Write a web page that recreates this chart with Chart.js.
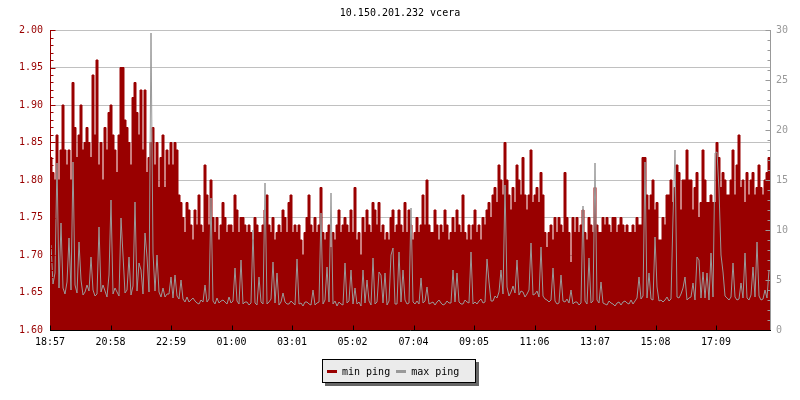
<!DOCTYPE html>
<html>
<head>
<meta charset="utf-8">
<script src="https://cdn.jsdelivr.net/npm/chart.js@4/dist/chart.umd.min.js"></script>
<style>
html,body{margin:0;padding:0;background:#fff;}
#wrap{position:relative;width:800px;height:400px;}
#legend{position:absolute;left:322px;top:359px;width:152px;height:22px;background:#ebebeb;border:1px solid #000;box-shadow:3px 3px 0 #666;font:10px "DejaVu Sans Mono",monospace;color:#000;display:flex;align-items:center;white-space:pre;}
#legend .sw{display:inline-block;width:10px;height:3px;margin:0 5px 0 4px;}
#legend .it{display:flex;align-items:center;}
#legend .it + .it .sw{margin-left:6px;}
</style>
</head>
<body>
<div id="wrap">
<canvas id="c" width="800" height="400"></canvas>
<div id="legend"></div>
</div>
<script>
const chartTitle = '10.150.201.232 vcera';
const seriesNames = ['min ping', 'max ping'];
const tickLabels = ['18:57','20:58','22:59','01:00','03:01','05:02','07:04','09:05','11:06','13:07','15:08','17:09'];
const stepMinutes = 4;
const leftTicks = [1.60,1.65,1.70,1.75,1.80,1.85,1.90,1.95,2.00];
const rightTicks = [0,5,10,15,20,25,30];

const minPing = [
1.83,1.81,1.80, 1.86,1.80,1.84, 1.90,1.84,1.82, 1.84,1.80,1.93, 1.87,1.83,1.86,
1.90,1.84,1.85, 1.87,1.85,1.83, 1.94,1.86,1.96, 1.82,1.85,1.80, 1.87,1.84,1.89,
1.90,1.86,1.84, 1.81,1.86,1.95, 1.95,1.88,1.87, 1.85,1.82,1.91, 1.93,1.89,1.86,
1.92,1.84,1.92, 1.81,1.83,1.85, 1.87,1.82,1.85, 1.79,1.83,1.86, 1.79,1.84,1.82,
1.85,1.82,1.85, 1.84,1.78,1.77, 1.75,1.73,1.77, 1.76,1.74,1.72, 1.76,1.74,1.78,
1.74,1.73,1.82, 1.78,1.74,1.80, 1.75,1.73,1.75, 1.72,1.74,1.77, 1.75,1.73,1.74,
1.74,1.73,1.78, 1.76,1.73,1.75, 1.75,1.74,1.73, 1.74,1.73,1.72, 1.75,1.74,1.73,
1.73,1.74,1.76, 1.78,1.74,1.73, 1.75,1.72,1.73, 1.74,1.73,1.76, 1.75,1.73,1.77,
1.78,1.73,1.74, 1.73,1.74,1.72, 1.70,1.73,1.75, 1.78,1.74,1.73, 1.75,1.73,1.74,
1.79,1.73,1.72, 1.73,1.74,1.71, 1.73,1.72,1.74, 1.76,1.73,1.74, 1.75,1.74,1.73,
1.76,1.73,1.79, 1.72,1.73,1.70, 1.75,1.73,1.76, 1.74,1.73,1.77, 1.76,1.74,1.77,
1.73,1.74,1.72, 1.73,1.72,1.75, 1.76,1.73,1.74, 1.76,1.74,1.73, 1.77,1.73,1.76,
1.74,1.72,1.73, 1.75,1.73,1.74, 1.78,1.74,1.80, 1.74,1.73,1.73, 1.76,1.74,1.72,
1.74,1.73,1.76, 1.74,1.72,1.73, 1.75,1.73,1.76, 1.74,1.73,1.78, 1.73,1.72,1.74,
1.72,1.74,1.76, 1.73,1.74,1.72, 1.75,1.74,1.76, 1.77,1.75,1.78, 1.79,1.77,1.82,
1.80,1.78,1.85, 1.80,1.78,1.76, 1.79,1.77,1.82, 1.80,1.78,1.83, 1.78,1.76,1.78,
1.84,1.77,1.78, 1.79,1.77,1.81, 1.78,1.73,1.71, 1.73,1.74,1.72, 1.75,1.73,1.75,
1.74,1.73,1.81, 1.75,1.73,1.69, 1.75,1.73,1.75, 1.73,1.74,1.76, 1.73,1.72,1.75,
1.74,1.73,1.79, 1.74,1.73,1.73, 1.75,1.74,1.75, 1.74,1.73,1.75, 1.75,1.73,1.74,
1.75,1.74,1.73, 1.74,1.73,1.73, 1.74,1.73,1.75, 1.74,1.74,1.83, 1.83,1.78,1.76,
1.78,1.80,1.76, 1.77,1.72,1.72, 1.75,1.74,1.78, 1.78,1.80,1.77, 1.79,1.82,1.81,
1.76,1.80,1.80, 1.84,1.80,1.80, 1.76,1.79,1.81, 1.75,1.77,1.84, 1.80,1.77,1.77,
1.78,1.77,1.77, 1.85,1.83,1.79, 1.81,1.80,1.78, 1.78,1.80,1.84, 1.78,1.82,1.86,
1.79,1.80,1.77, 1.81,1.78,1.80, 1.81,1.78,1.79, 1.82,1.79,1.78, 1.80,1.81,1.83
];

const maxPing = [
8.5,4.6,5.7, 16.7,4.2,10.7, 4.2,3.6,4.8, 9.2,4.0,16.8, 4.5,3.7,8.8,
5.0,3.5,3.8, 4.5,3.9,7.3, 4.0,3.4,3.6, 10.3,3.8,4.5, 3.9,3.3,5.5,
13.0,3.6,4.2, 3.8,3.4,11.2, 7.5,3.7,4.0, 7.3,3.5,4.4, 12.8,3.9,6.7,
6.0,3.6,9.7, 7.3,3.8,29.7, 7.7,3.9,7.5, 3.8,3.3,4.2, 3.3,3.6,3.6,
5.3,3.2,5.5, 3.4,3.1,5.0, 3.1,2.8,3.3, 2.8,3.0,3.2, 2.9,2.7,2.6,
3.0,2.8,4.5, 2.8,3.1,13.2, 2.9,2.6,3.2, 2.7,2.9,3.0, 2.8,2.6,3.3,
2.7,2.9,6.2, 2.9,2.6,7.0, 2.6,2.8,2.8, 2.5,2.7,10.0, 2.7,2.5,5.3,
2.8,2.6,14.7, 2.6,2.8,3.1, 6.8,2.7,5.7, 2.5,2.8,3.7, 2.8,2.6,2.6,
2.9,2.7,2.5, 7.1,2.6,2.7, 2.4,2.8,2.8, 2.6,2.5,4.0, 2.5,2.7,2.8,
11.7,2.6,3.0, 6.3,2.8,13.7, 2.6,2.9,2.4, 2.8,2.6,2.5, 6.7,2.7,2.9,
6.0,2.6,4.2, 2.6,2.8,2.4, 6.0,2.7,5.0, 2.9,2.5,7.2, 2.6,2.8,5.8,
5.5,2.7,5.7, 2.5,2.9,7.5, 8.2,2.6,2.6, 7.8,2.8,6.0, 3.0,2.6,2.7,
12.2,2.8,2.6, 2.9,2.6,5.2, 2.7,2.9,4.3, 2.6,2.7,2.8, 2.5,2.8,3.0,
2.7,2.5,2.6, 2.9,2.7,2.7, 6.0,2.8,5.7, 2.8,2.6,2.6, 3.0,2.8,2.7,
7.8,2.6,2.8, 2.6,2.9,3.1, 2.7,2.8,7.1, 4.8,2.9,2.9, 3.4,3.2,3.8,
6.0,3.6,14.5, 4.3,3.4,3.8, 4.4,3.7,7.0, 3.5,3.9,3.8, 3.3,3.6,4.0,
8.7,3.5,3.6, 3.9,3.3,8.3, 3.4,3.1,3.0, 2.8,3.0,6.2, 2.9,2.6,2.7,
5.5,2.9,2.8, 3.1,2.7,4.0, 2.6,2.8,2.8, 2.5,2.7,12.4, 2.9,2.6,7.2,
2.7,2.9,16.7, 3.0,2.7,4.8, 2.7,2.6,2.5, 2.9,2.7,2.6, 2.4,2.7,2.8,
2.5,2.8,2.9, 2.7,2.6,3.0, 2.6,2.9,3.2, 5.3,3.1,3.4, 16.8,3.2,5.7,
3.1,3.0,9.3, 4.3,2.9,3.0, 2.8,3.0,3.3, 2.9,3.1,11.3, 18.0,3.3,3.2,
3.6,4.2,5.3, 3.0,3.2,3.3, 4.7,3.0,7.3, 7.0,3.2,5.8, 3.2,5.7,3.0,
7.7,3.3,17.7, 17.8,14.0,7.5, 5.8,3.4,3.2, 3.0,3.3,6.7, 3.3,3.0,3.1,
4.7,3.2,7.7, 3.2,3.0,3.5, 6.3,3.3,8.8, 3.4,3.0,3.1, 4.0,3.2,6.0
];

const RED = '#990000';
const GRAY = '#999999';
const FONT = '"DejaVu Sans Mono", monospace';

function labelToMinutes(t) {
  const p = t.split(':');
  const start = tickLabels[0].split(':');
  const m = (+p[0]) * 60 + (+p[1]);
  const s = (+start[0]) * 60 + (+start[1]);
  return (m - s + 1440) % 1440;
}
const tickMinutes = tickLabels.map(labelToMinutes);
const totalMinutes = minPing.length * stepMinutes;

const minData = minPing.map((v, i) => ({x: i * stepMinutes, y: v}));
minData.push({x: totalMinutes, y: minPing[minPing.length - 1]});
const maxData = maxPing.map((v, i) => ({x: i * stepMinutes + stepMinutes / 2, y: v}));

const axesPlugin = {
  id: 'axesInside',
  afterDatasetsDraw(chart) {
    const ctx = chart.ctx;
    const a = chart.chartArea;
    const sy = chart.scales.y, sy1 = chart.scales.y1, sx = chart.scales.x;
    ctx.save();
    ctx.lineWidth = 1;
    ctx.strokeStyle = RED;
    ctx.beginPath();
    const lx = Math.round(a.left) + 0.5;
    ctx.moveTo(lx, a.top); ctx.lineTo(lx, a.bottom);
    for (let k = 0; k <= 40; k++) {
      const v = sy.min + k * (sy.max - sy.min) / 40;
      const py = Math.round(sy.getPixelForValue(v)) + 0.5;
      const len = (k % 5 === 0) ? 5 : 3;
      ctx.moveTo(lx, py); ctx.lineTo(lx + len, py);
    }
    ctx.stroke();
    ctx.strokeStyle = GRAY;
    ctx.beginPath();
    const rx = Math.round(a.right) + 0.5;
    ctx.moveTo(rx, a.top); ctx.lineTo(rx, a.bottom);
    for (let k = 0; k <= 30; k++) {
      const v = sy1.min + k * (sy1.max - sy1.min) / 30;
      const py = Math.round(sy1.getPixelForValue(v)) + 0.5;
      const len = (k % 5 === 0) ? 5 : 3;
      ctx.moveTo(rx, py); ctx.lineTo(rx - len, py);
    }
    ctx.stroke();
    ctx.strokeStyle = '#000';
    ctx.beginPath();
    const by = Math.round(a.bottom) + 0.5;
    ctx.moveTo(a.left, by); ctx.lineTo(a.right + 1, by);
    tickMinutes.forEach(m => {
      const px = Math.round(sx.getPixelForValue(m)) + 0.5;
      ctx.moveTo(px, by); ctx.lineTo(px, by - 5);
    });
    ctx.stroke();
    ctx.restore();
  }
};

Chart.defaults.font.family = FONT;
Chart.defaults.font.size = 10;

new Chart(document.getElementById('c'), {
  type: 'line',
  data: {
    datasets: [
      {
        label: seriesNames[0],
        data: minData,
        yAxisID: 'y',
        borderColor: RED,
        backgroundColor: RED,
        borderWidth: 1,
        fill: 'start',
        stepped: true,
        pointRadius: 0,
        tension: 0,
        order: 1
      },
      {
        label: seriesNames[1],
        data: maxData,
        yAxisID: 'y1',
        borderColor: GRAY,
        backgroundColor: GRAY,
        borderWidth: 1,
        fill: false,
        pointRadius: 0,
        tension: 0,
        order: 0
      }
    ]
  },
  options: {
    responsive: false,
    animation: false,
    events: [],
    layout: {padding: 0},
    plugins: {
      legend: {display: false},
      tooltip: {enabled: false},
      title: {
        display: true,
        text: chartTitle,
        color: '#000',
        font: {family: FONT, size: 10, weight: 'normal'},
        padding: {top: 7, bottom: 11}
      }
    },
    scales: {
      x: {
        type: 'linear',
        min: 0,
        max: totalMinutes,
        afterBuildTicks: s => { s.ticks = tickMinutes.map(m => ({value: m})); },
        ticks: {
          callback: (v, i) => tickLabels[i],
          color: '#000',
          font: {family: FONT, size: 10},
          padding: 6,
          maxRotation: 0,
          autoSkip: false
        },
        grid: {display: false, drawTicks: false},
        border: {display: false},
        afterFit: s => { s.height = 70; }
      },
      y: {
        position: 'left',
        min: leftTicks[0],
        max: leftTicks[leftTicks.length - 1],
        afterBuildTicks: s => { s.ticks = leftTicks.map(v => ({value: v})); },
        ticks: {
          callback: v => v.toFixed(2),
          color: RED,
          font: {family: FONT, size: 10},
          padding: 7
        },
        grid: {color: '#c0c0c0', lineWidth: 1, drawTicks: false},
        border: {display: false},
        afterFit: s => { s.width = 50; }
      },
      y1: {
        position: 'right',
        min: rightTicks[0],
        max: rightTicks[rightTicks.length - 1],
        afterBuildTicks: s => { s.ticks = rightTicks.map(v => ({value: v})); },
        ticks: {
          callback: v => String(v),
          color: GRAY,
          font: {family: FONT, size: 10},
          padding: 6
        },
        grid: {drawOnChartArea: false, drawTicks: false},
        border: {display: false},
        afterFit: s => { s.width = 30; }
      }
    }
  },
  plugins: [axesPlugin]
});

const lg = document.getElementById('legend');
[RED, GRAY].forEach((col, i) => {
  const it = document.createElement('span');
  it.className = 'it';
  const sw = document.createElement('span');
  sw.className = 'sw';
  sw.style.background = col;
  const tx = document.createElement('span');
  tx.textContent = seriesNames[i];
  it.appendChild(sw);
  it.appendChild(tx);
  lg.appendChild(it);
});
</script>
</body>
</html>
